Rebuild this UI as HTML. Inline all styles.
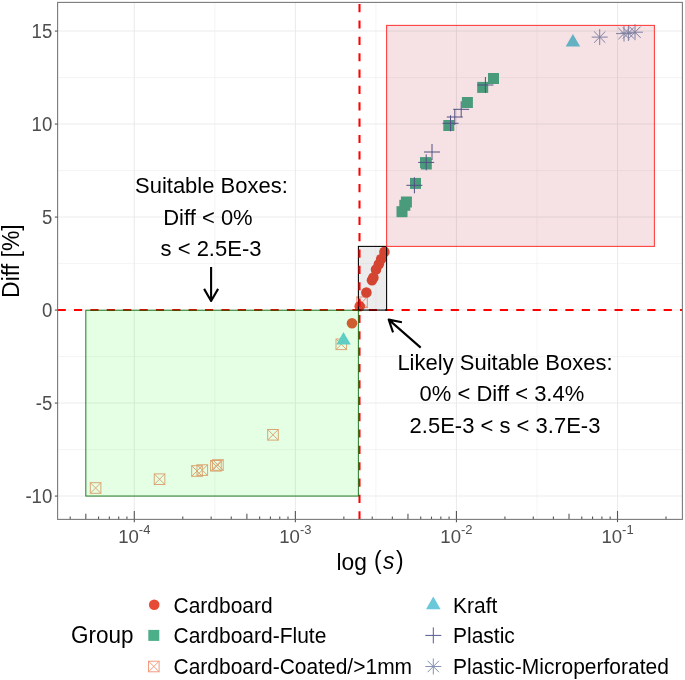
<!DOCTYPE html>
<html><head><meta charset="utf-8"><style>
html,body{margin:0;padding:0;background:#fff;width:685px;height:680px;overflow:hidden}
svg{display:block;will-change:transform}
text{font-family:"Liberation Sans",sans-serif}
</style></head><body>
<svg width="685" height="680" viewBox="0 0 685 680" font-family="Liberation Sans, sans-serif">
<rect width="685" height="680" fill="#fff"/>
<defs><clipPath id="pc"><rect x="57.6" y="2.4" width="624.8" height="517.0"/></clipPath></defs>
<g clip-path="url(#pc)">
<line x1="57.6" x2="682.4" y1="77.57" y2="77.57" stroke="#EBEBEB" stroke-width="0.55"/>
<line x1="57.6" x2="682.4" y1="170.57" y2="170.57" stroke="#EBEBEB" stroke-width="0.55"/>
<line x1="57.6" x2="682.4" y1="263.57" y2="263.57" stroke="#EBEBEB" stroke-width="0.55"/>
<line x1="57.6" x2="682.4" y1="356.57" y2="356.57" stroke="#EBEBEB" stroke-width="0.55"/>
<line x1="57.6" x2="682.4" y1="449.57" y2="449.57" stroke="#EBEBEB" stroke-width="0.55"/>
<line y1="2.4" y2="519.4" x1="214.84" x2="214.84" stroke="#EBEBEB" stroke-width="0.55"/>
<line y1="2.4" y2="519.4" x1="375.90" x2="375.90" stroke="#EBEBEB" stroke-width="0.55"/>
<line y1="2.4" y2="519.4" x1="536.97" x2="536.97" stroke="#EBEBEB" stroke-width="0.55"/>
<line x1="57.6" x2="682.4" y1="31.07" y2="31.07" stroke="#EBEBEB" stroke-width="1.1"/>
<line x1="57.6" x2="682.4" y1="124.07" y2="124.07" stroke="#EBEBEB" stroke-width="1.1"/>
<line x1="57.6" x2="682.4" y1="217.07" y2="217.07" stroke="#EBEBEB" stroke-width="1.1"/>
<line x1="57.6" x2="682.4" y1="310.07" y2="310.07" stroke="#EBEBEB" stroke-width="1.1"/>
<line x1="57.6" x2="682.4" y1="403.07" y2="403.07" stroke="#EBEBEB" stroke-width="1.1"/>
<line x1="57.6" x2="682.4" y1="496.07" y2="496.07" stroke="#EBEBEB" stroke-width="1.1"/>
<line y1="2.4" y2="519.4" x1="134.30" x2="134.30" stroke="#EBEBEB" stroke-width="1.1"/>
<line y1="2.4" y2="519.4" x1="295.37" x2="295.37" stroke="#EBEBEB" stroke-width="1.1"/>
<line y1="2.4" y2="519.4" x1="456.44" x2="456.44" stroke="#EBEBEB" stroke-width="1.1"/>
<line y1="2.4" y2="519.4" x1="617.51" x2="617.51" stroke="#EBEBEB" stroke-width="1.1"/>
<g stroke="#F39B7F" stroke-width="1.0" fill="none"><rect x="90.30" y="482.70" width="10.6" height="10.6"/><path d="M90.30 482.70L100.90 493.30M90.30 493.30L100.90 482.70"/></g>
<g stroke="#F39B7F" stroke-width="1.0" fill="none"><rect x="154.25" y="473.90" width="10.6" height="10.6"/><path d="M154.25 473.90L164.85 484.50M154.25 484.50L164.85 473.90"/></g>
<g stroke="#F39B7F" stroke-width="1.0" fill="none"><rect x="191.70" y="465.70" width="10.6" height="10.6"/><path d="M191.70 465.70L202.30 476.30M191.70 476.30L202.30 465.70"/></g>
<g stroke="#F39B7F" stroke-width="1.0" fill="none"><rect x="197.00" y="464.80" width="10.6" height="10.6"/><path d="M197.00 464.80L207.60 475.40M197.00 475.40L207.60 464.80"/></g>
<g stroke="#F39B7F" stroke-width="1.0" fill="none"><rect x="210.60" y="460.50" width="10.6" height="10.6"/><path d="M210.60 460.50L221.20 471.10M210.60 471.10L221.20 460.50"/></g>
<g stroke="#F39B7F" stroke-width="1.0" fill="none"><rect x="212.60" y="459.70" width="10.6" height="10.6"/><path d="M212.60 459.70L223.20 470.30M212.60 470.30L223.20 459.70"/></g>
<g stroke="#F39B7F" stroke-width="1.0" fill="none"><rect x="267.70" y="429.50" width="10.6" height="10.6"/><path d="M267.70 429.50L278.30 440.10M267.70 440.10L278.30 429.50"/></g>
<g stroke="#F39B7F" stroke-width="1.0" fill="none"><rect x="336.00" y="339.00" width="10.6" height="10.6"/><path d="M336.00 339.00L346.60 349.60M336.00 349.60L346.60 339.00"/></g>
<g stroke="#F39B7F" stroke-width="1.0" fill="none"><rect x="356.70" y="297.00" width="10.6" height="10.6"/><path d="M356.70 297.00L367.30 307.60M356.70 307.60L367.30 297.00"/></g>
<circle cx="384.40" cy="251.90" r="5.3" fill="#E64B35"/>
<circle cx="381.20" cy="259.00" r="5.3" fill="#E64B35"/>
<circle cx="378.80" cy="264.20" r="5.3" fill="#E64B35"/>
<circle cx="376.00" cy="269.50" r="5.3" fill="#E64B35"/>
<circle cx="373.40" cy="277.50" r="5.3" fill="#E64B35"/>
<circle cx="372.00" cy="280.20" r="5.3" fill="#E64B35"/>
<circle cx="366.40" cy="292.50" r="5.3" fill="#E64B35"/>
<circle cx="359.70" cy="306.20" r="5.3" fill="#E64B35"/>
<circle cx="352.00" cy="323.20" r="5.3" fill="#E64B35"/>
<rect x="396.50" y="206.20" width="11.0" height="11.0" fill="#4DAF8A"/>
<rect x="399.30" y="199.80" width="11.0" height="11.0" fill="#4DAF8A"/>
<rect x="400.90" y="196.50" width="11.0" height="11.0" fill="#4DAF8A"/>
<rect x="410.00" y="177.90" width="11.0" height="11.0" fill="#4DAF8A"/>
<rect x="420.00" y="157.10" width="11.0" height="11.0" fill="#4DAF8A"/>
<rect x="420.80" y="158.50" width="11.0" height="11.0" fill="#4DAF8A"/>
<rect x="443.30" y="120.00" width="11.0" height="11.0" fill="#4DAF8A"/>
<rect x="461.90" y="97.00" width="11.0" height="11.0" fill="#4DAF8A"/>
<rect x="477.20" y="81.90" width="11.0" height="11.0" fill="#4DAF8A"/>
<rect x="488.00" y="73.00" width="11.0" height="11.0" fill="#4DAF8A"/>
<path d="M343.50 331.90L350.77 344.50L336.23 344.50Z" fill="#69C8DA"/>
<path d="M572.90 34.00L580.17 46.60L565.63 46.60Z" fill="#69C8DA"/>
<path d="M406.40 185.30H422.40M414.40 177.30V193.30" stroke="#555A91" stroke-width="1.0" fill="none"/>
<path d="M418.20 162.40H434.20M426.20 154.40V170.40" stroke="#555A91" stroke-width="1.0" fill="none"/>
<path d="M424.00 152.00H440.00M432.00 144.00V160.00" stroke="#555A91" stroke-width="1.0" fill="none"/>
<path d="M442.50 123.30H458.50M450.50 115.30V131.30" stroke="#555A91" stroke-width="1.0" fill="none"/>
<path d="M446.80 117.00H462.80M454.80 109.00V125.00" stroke="#555A91" stroke-width="1.0" fill="none"/>
<path d="M453.20 109.30H469.20M461.20 101.30V117.30" stroke="#555A91" stroke-width="1.0" fill="none"/>
<path d="M477.40 85.00H493.40M485.40 77.00V93.00" stroke="#555A91" stroke-width="1.0" fill="none"/>
<path d="M591.70 37.10H607.70M599.70 29.10V45.10M594.04 31.44L605.36 42.76M594.04 42.76L605.36 31.44" stroke="#8491B4" stroke-width="1.0" fill="none"/>
<path d="M616.00 33.60H632.00M624.00 25.60V41.60M618.34 27.94L629.66 39.26M618.34 39.26L629.66 27.94" stroke="#8491B4" stroke-width="1.0" fill="none"/>
<path d="M620.40 33.00H636.40M628.40 25.00V41.00M622.74 27.34L634.06 38.66M622.74 38.66L634.06 27.34" stroke="#8491B4" stroke-width="1.0" fill="none"/>
<path d="M627.00 32.20H643.00M635.00 24.20V40.20M629.34 26.54L640.66 37.86M629.34 37.86L640.66 26.54" stroke="#8491B4" stroke-width="1.0" fill="none"/>
<line x1="57.6" x2="682.4" y1="310.07" y2="310.07" stroke="#FF0000" stroke-width="2.05" stroke-dasharray="8.19 8.19"/>
<rect x="358.4" y="246.4" width="28.20" height="63.70" fill="#000" fill-opacity="0.075" stroke="#000" stroke-width="1.07"/>
<line x1="359.5" x2="359.5" y1="519.4" y2="2.4" stroke="#FF0000" stroke-width="2.05" stroke-dasharray="8.18 8.18"/>
<rect x="85.8" y="310.25" width="272.60" height="185.82" fill="#00FF00" fill-opacity="0.1" stroke="#006400" stroke-opacity="0.8" stroke-width="1.07"/>
<rect x="386.6" y="25.4" width="267.80" height="221.00" fill="rgb(246,226,229)" style="mix-blend-mode:multiply" stroke="none"/>
<rect x="386.6" y="25.4" width="267.80" height="221.00" fill="none" stroke="#FF2A2A" stroke-opacity="0.9" stroke-width="1.07"/>
<line x1="70.20" x2="70.20" y1="519.4" y2="516.57" stroke="#555" stroke-width="1.1"/>
<line x1="85.81" x2="85.81" y1="519.4" y2="513.73" stroke="#555" stroke-width="1.1"/>
<line x1="98.57" x2="98.57" y1="519.4" y2="516.57" stroke="#555" stroke-width="1.1"/>
<line x1="109.35" x2="109.35" y1="519.4" y2="516.57" stroke="#555" stroke-width="1.1"/>
<line x1="118.69" x2="118.69" y1="519.4" y2="516.57" stroke="#555" stroke-width="1.1"/>
<line x1="126.93" x2="126.93" y1="519.4" y2="516.57" stroke="#555" stroke-width="1.1"/>
<line x1="134.30" x2="134.30" y1="519.4" y2="510.90" stroke="#555" stroke-width="1.1"/>
<line x1="182.79" x2="182.79" y1="519.4" y2="516.57" stroke="#555" stroke-width="1.1"/>
<line x1="211.15" x2="211.15" y1="519.4" y2="516.57" stroke="#555" stroke-width="1.1"/>
<line x1="231.27" x2="231.27" y1="519.4" y2="516.57" stroke="#555" stroke-width="1.1"/>
<line x1="246.88" x2="246.88" y1="519.4" y2="513.73" stroke="#555" stroke-width="1.1"/>
<line x1="259.64" x2="259.64" y1="519.4" y2="516.57" stroke="#555" stroke-width="1.1"/>
<line x1="270.42" x2="270.42" y1="519.4" y2="516.57" stroke="#555" stroke-width="1.1"/>
<line x1="279.76" x2="279.76" y1="519.4" y2="516.57" stroke="#555" stroke-width="1.1"/>
<line x1="288.00" x2="288.00" y1="519.4" y2="516.57" stroke="#555" stroke-width="1.1"/>
<line x1="295.37" x2="295.37" y1="519.4" y2="510.90" stroke="#555" stroke-width="1.1"/>
<line x1="343.86" x2="343.86" y1="519.4" y2="516.57" stroke="#555" stroke-width="1.1"/>
<line x1="372.22" x2="372.22" y1="519.4" y2="516.57" stroke="#555" stroke-width="1.1"/>
<line x1="392.34" x2="392.34" y1="519.4" y2="516.57" stroke="#555" stroke-width="1.1"/>
<line x1="407.95" x2="407.95" y1="519.4" y2="513.73" stroke="#555" stroke-width="1.1"/>
<line x1="420.71" x2="420.71" y1="519.4" y2="516.57" stroke="#555" stroke-width="1.1"/>
<line x1="431.49" x2="431.49" y1="519.4" y2="516.57" stroke="#555" stroke-width="1.1"/>
<line x1="440.83" x2="440.83" y1="519.4" y2="516.57" stroke="#555" stroke-width="1.1"/>
<line x1="449.07" x2="449.07" y1="519.4" y2="516.57" stroke="#555" stroke-width="1.1"/>
<line x1="456.44" x2="456.44" y1="519.4" y2="510.90" stroke="#555" stroke-width="1.1"/>
<line x1="504.93" x2="504.93" y1="519.4" y2="516.57" stroke="#555" stroke-width="1.1"/>
<line x1="533.29" x2="533.29" y1="519.4" y2="516.57" stroke="#555" stroke-width="1.1"/>
<line x1="553.41" x2="553.41" y1="519.4" y2="516.57" stroke="#555" stroke-width="1.1"/>
<line x1="569.02" x2="569.02" y1="519.4" y2="513.73" stroke="#555" stroke-width="1.1"/>
<line x1="581.78" x2="581.78" y1="519.4" y2="516.57" stroke="#555" stroke-width="1.1"/>
<line x1="592.56" x2="592.56" y1="519.4" y2="516.57" stroke="#555" stroke-width="1.1"/>
<line x1="601.90" x2="601.90" y1="519.4" y2="516.57" stroke="#555" stroke-width="1.1"/>
<line x1="610.14" x2="610.14" y1="519.4" y2="516.57" stroke="#555" stroke-width="1.1"/>
<line x1="617.51" x2="617.51" y1="519.4" y2="510.90" stroke="#555" stroke-width="1.1"/>
<line x1="666.00" x2="666.00" y1="519.4" y2="516.57" stroke="#555" stroke-width="1.1"/>
</g>
<rect x="57.6" y="2.4" width="624.8" height="517.0" fill="none" stroke="#7A7A7A" stroke-width="1.1"/>
<line x1="54.85" x2="57.6" y1="31.07" y2="31.07" stroke="#555" stroke-width="1.1"/>
<line x1="54.85" x2="57.6" y1="124.07" y2="124.07" stroke="#555" stroke-width="1.1"/>
<line x1="54.85" x2="57.6" y1="217.07" y2="217.07" stroke="#555" stroke-width="1.1"/>
<line x1="54.85" x2="57.6" y1="310.07" y2="310.07" stroke="#555" stroke-width="1.1"/>
<line x1="54.85" x2="57.6" y1="403.07" y2="403.07" stroke="#555" stroke-width="1.1"/>
<line x1="54.85" x2="57.6" y1="496.07" y2="496.07" stroke="#555" stroke-width="1.1"/>
<line y1="519.4" y2="522.15" x1="134.30" x2="134.30" stroke="#555" stroke-width="1.1"/>
<line y1="519.4" y2="522.15" x1="295.37" x2="295.37" stroke="#555" stroke-width="1.1"/>
<line y1="519.4" y2="522.15" x1="456.44" x2="456.44" stroke="#555" stroke-width="1.1"/>
<line y1="519.4" y2="522.15" x1="617.51" x2="617.51" stroke="#555" stroke-width="1.1"/>
<text transform="translate(52.3 38.13) scale(1 1.06)" font-size="18.6" fill="#4D4D4D" text-anchor="end">15</text>
<text transform="translate(52.3 131.13) scale(1 1.06)" font-size="18.6" fill="#4D4D4D" text-anchor="end">10</text>
<text transform="translate(52.3 224.13) scale(1 1.06)" font-size="18.6" fill="#4D4D4D" text-anchor="end">5</text>
<text transform="translate(52.3 317.13) scale(1 1.06)" font-size="18.6" fill="#4D4D4D" text-anchor="end">0</text>
<text transform="translate(52.3 410.13) scale(1 1.06)" font-size="18.6" fill="#4D4D4D" text-anchor="end">-5</text>
<text transform="translate(52.3 503.13) scale(1 1.06)" font-size="18.6" fill="#4D4D4D" text-anchor="end">-10</text>
<text transform="translate(134.30 542.9) scale(1 1.03)" font-size="18.6" fill="#4D4D4D" text-anchor="middle">10<tspan font-size="13.0" dy="-8.7">-4</tspan></text>
<text transform="translate(295.37 542.9) scale(1 1.03)" font-size="18.6" fill="#4D4D4D" text-anchor="middle">10<tspan font-size="13.0" dy="-8.7">-3</tspan></text>
<text transform="translate(456.44 542.9) scale(1 1.03)" font-size="18.6" fill="#4D4D4D" text-anchor="middle">10<tspan font-size="13.0" dy="-8.7">-2</tspan></text>
<text transform="translate(617.51 542.9) scale(1 1.03)" font-size="18.6" fill="#4D4D4D" text-anchor="middle">10<tspan font-size="13.0" dy="-8.7">-1</tspan></text>
<text transform="translate(336.40 569.50) scale(1 1.045)" font-size="22.8">log</text>
<text transform="translate(373.9 568.6) scale(1 1.155)" font-size="22.8" fill="#000">(</text>
<text transform="translate(383.00 569.30) scale(1 1.045)" font-size="22.8" font-style="italic">s</text>
<text transform="translate(395.9 568.6) scale(1 1.155)" font-size="22.8" fill="#000">)</text>
<text transform="translate(18.8 261.1) rotate(-90) scale(1 1.045)" font-size="23" fill="#000" text-anchor="middle">Diff [%]</text>
<text transform="translate(211.40 193.10) scale(1 1.045)" font-size="22" text-anchor="middle">Suitable Boxes:</text>
<text transform="translate(207.94 224.90) scale(1 1.045)" font-size="22" text-anchor="middle">Diff &lt; 0%</text>
<text transform="translate(211.00 256.00) scale(1 1.045)" font-size="22" text-anchor="middle">s &lt; 2.5E-3</text>
<text transform="translate(505.00 370.30) scale(1 1.045)" font-size="22" text-anchor="middle">Likely Suitable Boxes:</text>
<text transform="translate(501.94 401.10) scale(1 1.045)" font-size="22" text-anchor="middle">0% &lt; Diff &lt; 3.4%</text>
<text transform="translate(505.00 432.60) scale(1 1.045)" font-size="22" text-anchor="middle">2.5E-3 &lt; s &lt; 3.7E-3</text>
<path d="M211.10 267.00L211.10 301.00M218.10 288.88L211.10 301.00L204.10 288.88" stroke="#000" stroke-width="2.1" fill="none" stroke-linecap="butt" stroke-linejoin="round"/>
<path d="M420.70 347.60L388.70 319.60M393.05 332.38L388.70 319.60L401.94 322.22" stroke="#000" stroke-width="2.1" fill="none" stroke-linecap="butt" stroke-linejoin="round"/>
<text transform="translate(71.00 643.20) scale(1 1.045)" font-size="22.5">Group</text>
<circle cx="154.20000000000002" cy="604.7" r="5.3" fill="#E64B35"/>
<rect x="148.30" y="629.90" width="11.0" height="11.0" fill="#4DAF8A"/>
<g stroke="#F39B7F" stroke-width="1.0" fill="none"><rect x="148.50" y="661.20" width="10.6" height="10.6"/><path d="M148.50 661.20L159.10 671.80M148.50 671.80L159.10 661.20"/></g>
<path d="M433.30 596.60L440.57 609.20L426.03 609.20Z" fill="#69C8DA"/>
<path d="M425.30 635.40H441.30M433.30 627.40V643.40" stroke="#555A91" stroke-width="1.0" fill="none"/>
<path d="M425.30 666.50H441.30M433.30 658.50V674.50M427.64 660.84L438.96 672.16M427.64 672.16L438.96 660.84" stroke="#8491B4" stroke-width="1.0" fill="none"/>
<text transform="translate(173.50 612.50) scale(1 1.045)" font-size="21">Cardboard</text>
<text transform="translate(173.50 643.30) scale(1 1.045)" font-size="21">Cardboard-Flute</text>
<text transform="translate(173.50 674.20) scale(1 1.045)" font-size="21">Cardboard-Coated/&gt;1mm</text>
<text transform="translate(453.00 612.50) scale(1 1.045)" font-size="21">Kraft</text>
<text transform="translate(453.00 643.30) scale(1 1.045)" font-size="21">Plastic</text>
<text transform="translate(453.00 674.20) scale(1 1.045)" font-size="21">Plastic-Microperforated</text>
</svg>
</body></html>
